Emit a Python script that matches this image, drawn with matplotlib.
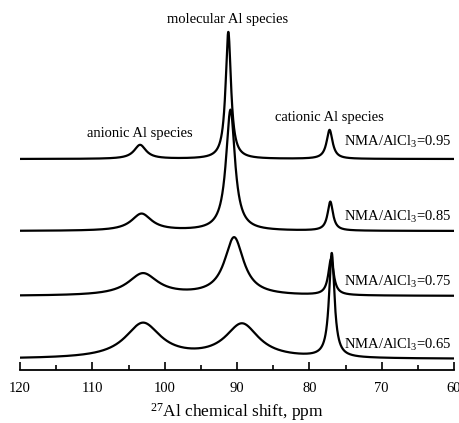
import numpy as np
import matplotlib
matplotlib.use("Agg")
import matplotlib.pyplot as plt
from matplotlib.ticker import MultipleLocator

plt.rcParams['font.family'] = ['Liberation Serif', 'DejaVu Serif']
plt.rcParams['mathtext.fontset'] = 'custom'
plt.rcParams['mathtext.rm'] = 'Liberation Serif'
plt.rcParams['mathtext.it'] = 'Liberation Serif:italic'

# Data: ratio labels and peak parameters (ppm position, height, half-width)
ratios = ["0.95", "0.85", "0.75", "0.65"]
anionic_pos = [103.4, 103.2, 103.0, 103.0]
anionic_height = [14, 17, 22, 35]
anionic_hw = [1.0, 1.7, 2.5, 3.0]
molecular_pos = [91.2, 90.9, 90.4, 89.3]
molecular_height = [127, 121, 58, 34]
molecular_hw = [0.45, 0.75, 1.6, 2.8]
cationic_pos = [77.2, 77.1, 77.0, 76.9]
cationic_height = [29, 29, 36, 104]
cationic_hw = [0.5, 0.45, 0.45, 0.45]

# Layout: vertical offsets of each stacked trace (axis units)
offsets = [211, 139, 74, 11]

x = np.linspace(120, 60, 3000)

def lorentz(xx, x0, h, g):
    return h / (1 + ((xx - x0) / g) ** 2)

fig = plt.figure(figsize=(4.6, 4.23), dpi=100)
ax = fig.add_axes([20 / 460, 1 - 370 / 423, 434 / 460, 350 / 423])

for i, r in enumerate(ratios):
    y = (lorentz(x, anionic_pos[i], anionic_height[i], anionic_hw[i])
         + lorentz(x, molecular_pos[i], molecular_height[i], molecular_hw[i])
         + lorentz(x, cationic_pos[i], cationic_height[i], cationic_hw[i]))
    ax.plot(x, y + offsets[i], color='black', lw=1.6)

ax.set_xlim(120, 60)
ax.set_ylim(0, 350)
for s in ['top', 'left', 'right']:
    ax.spines[s].set_visible(False)
ax.spines['bottom'].set_linewidth(1.3)
ax.set_yticks([])
ax.xaxis.set_major_locator(MultipleLocator(10))
ax.xaxis.set_minor_locator(MultipleLocator(5))
ax.tick_params(axis='x', which='major', direction='in', length=6, width=1.2, labelsize=10.5, pad=8.5)
ax.tick_params(axis='x', which='minor', direction='in', length=3.5, width=1.2)
ax.set_xlabel(r'$^{27}$Al chemical shift, ppm', fontsize=12.5, labelpad=4.5)

# annotations
def px(xp, yp):
    return (xp / 460, 1 - yp / 423)

fig.text(*px(228, 20), 'molecular Al species', ha='center', va='center', fontsize=10.5)
fig.text(*px(140, 133), 'anionic Al species', ha='center', va='center', fontsize=10.5)
fig.text(*px(329, 118), 'cationic Al species', ha='center', va='center', fontsize=10.5)
label_y = [142, 217, 282, 345]
for r, ly in zip(ratios, label_y):
    fig.text(*px(452, ly), r'NMA/AlCl$_3$=' + r, ha='right', va='center', fontsize=10.5)

fig.savefig('out.png', dpi=100)
